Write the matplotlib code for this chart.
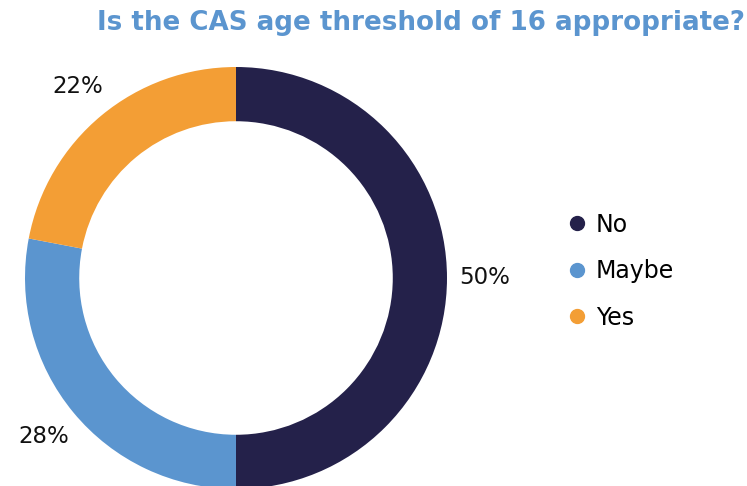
import matplotlib.pyplot as plt
from matplotlib.lines import Line2D

plt.rcParams['font.family'] = ['DejaVu Sans']

categories = ['No', 'Maybe', 'Yes']
values = [50, 28, 22]
colors = ['#24214a', '#5b95cf', '#f39e35']

fig = plt.figure(figsize=(7.47, 4.86), dpi=100)
ax = fig.add_axes([0, 0, 1, 1])

wedges, texts, autotexts = ax.pie(
    values, colors=colors, startangle=90, counterclock=False,
    radius=1.0, wedgeprops=dict(width=0.257, linewidth=0),
    autopct='%d%%', pctdistance=1.18,
    textprops=dict(fontsize=16.5, color='#111111'))

# map data units to pixels: 211 px per unit, centre at (236, 278) from top-left
s = 211.0
ax.set_xlim(-236 / s, (747 - 236) / s)
ax.set_ylim(-(486 - 278) / s, 278 / s)
ax.set_aspect('auto')
ax.axis('off')

fig.text(0.997, 0.953, 'Is the CAS age threshold of 16 appropriate?',
         ha='right', va='center', fontsize=18.8, fontweight='bold', color='#5b95cf')

handles = [Line2D([0], [0], marker='o', linestyle='', markersize=10,
                  markerfacecolor=c, markeredgecolor=c) for c in colors]
leg = fig.legend(handles, categories, loc='center left',
                 bbox_to_anchor=(0.728, 0.442), frameon=False,
                 fontsize=17, handletextpad=0.3, labelspacing=0.95,
                 handlelength=1.0)

fig.savefig('out.png', dpi=100)
